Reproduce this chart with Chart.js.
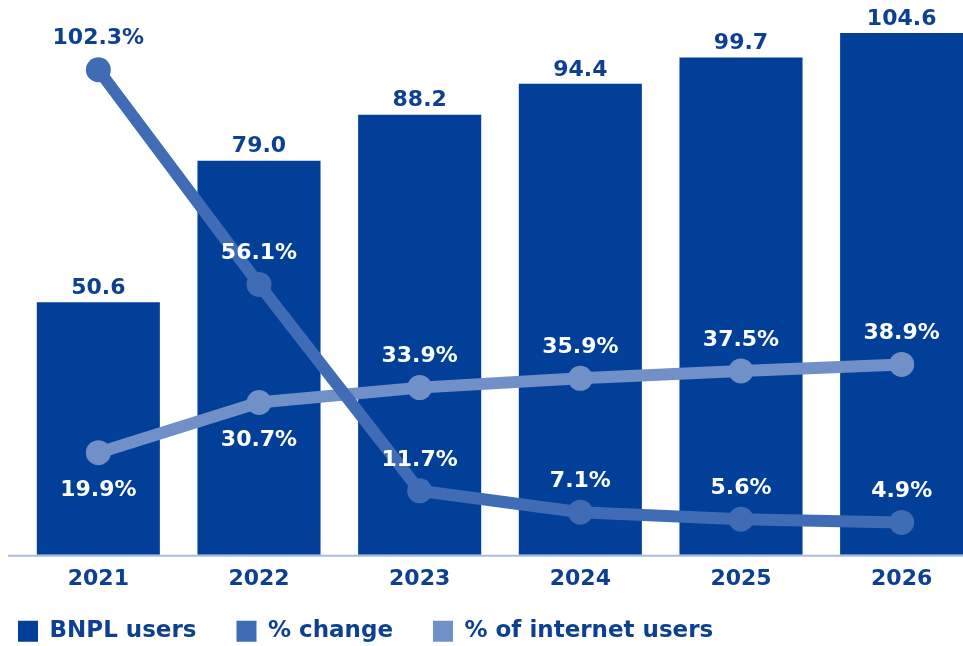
<!DOCTYPE html>
<html>
<head>
<meta charset="utf-8">
<script src="https://cdn.jsdelivr.net/npm/chart.js@4"></script>
<style>
  html, body { margin: 0; padding: 0; background: #fff; overflow: hidden; }
  #bnplChart { display: block; margin-left: -22px; }
</style>
</head>
<body>
<canvas id="bnplChart" width="1004" height="660"></canvas>
<script>
// Données
const years = ['2021', '2022', '2023', '2024', '2025', '2026'];
const bnplUsers = [50.6, 79.0, 88.2, 94.4, 99.7, 104.6];
const pctChange = [102.3, 56.1, 11.7, 7.1, 5.6, 4.9];
const pctInternetUsers = [19.9, 30.7, 33.9, 35.9, 37.5, 38.9];

const DARK = '#023f98';
const MID = '#3f6cb4';
const LIGHT = '#7190c8';
const TEXT = '#0d3f93';
const FONT = '"DejaVu Sans", sans-serif';

// Ligne de base sous les barres + années qui débordent sur la zone de légende
const baseLine = {
  id: 'baseLine',
  afterLayout(chart) {
    chart.scales.x.bottom = chart.legend.bottom;
  },
  beforeDatasetsDraw(chart) {
    const { ctx, chartArea } = chart;
    ctx.save();
    ctx.strokeStyle = '#a9bbdc';
    ctx.lineWidth = 2;
    ctx.beginPath();
    ctx.moveTo(chartArea.left - 10, chartArea.bottom + 1);
    ctx.lineTo(chartArea.right, chartArea.bottom + 1);
    ctx.stroke();
    ctx.restore();
  }
};

// Étiquettes de valeurs
const valueLabels = {
  id: 'valueLabels',
  afterDatasetsDraw(chart) {
    const { ctx } = chart;
    const bars = chart.getDatasetMeta(0).data;
    ctx.save();
    ctx.font = 'bold 22px ' + FONT;
    ctx.textAlign = 'center';

    // valeurs des barres
    ctx.textBaseline = 'bottom';
    ctx.fillStyle = TEXT;
    bars.forEach((bar, i) => {
      ctx.fillText(bnplUsers[i].toFixed(1), bar.x, bar.y - 3);
    });

    // valeurs des courbes
    ctx.textBaseline = 'middle';
    [1, 2].forEach(idx => {
      const values = chart.data.datasets[idx].data;
      chart.getDatasetMeta(idx).data.forEach((pt, i) => {
        const below = idx === 2 && values[i] < pctChange[i];
        const y = below ? pt.y + 38 : pt.y - 31;
        ctx.fillStyle = y - 10 > bars[i].y ? '#ffffff' : TEXT;
        ctx.fillText(values[i].toFixed(1) + '%', pt.x, y);
      });
    });
    ctx.restore();
  }
};

new Chart(document.getElementById('bnplChart'), {
  data: {
    labels: years,
    datasets: [
      {
        type: 'bar',
        label: 'BNPL users',
        data: bnplUsers,
        backgroundColor: DARK,
        barPercentage: 0.766,
        categoryPercentage: 1,
        yAxisID: 'y',
        order: 3
      },
      {
        type: 'line',
        label: '% change',
        data: pctChange,
        borderColor: MID,
        backgroundColor: MID,
        borderWidth: 12,
        pointRadius: 12.5,
        pointBackgroundColor: MID,
        pointBorderWidth: 0,
        tension: 0,
        yAxisID: 'y1',
        order: 1
      },
      {
        type: 'line',
        label: '% of internet users',
        data: pctInternetUsers,
        borderColor: LIGHT,
        backgroundColor: LIGHT,
        borderWidth: 12,
        pointRadius: 12.5,
        pointBackgroundColor: LIGHT,
        pointBorderWidth: 0,
        tension: 0,
        yAxisID: 'y1',
        order: 2
      }
    ]
  },
  options: {
    responsive: false,
    animation: false,
    layout: {
      autoPadding: false,
      padding: { top: 20, left: 0, right: 0, bottom: 7.3 }
    },
    plugins: {
      tooltip: { enabled: false },
      legend: {
        position: 'bottom',
        align: 'start',
        labels: {
          boxWidth: 20,
          boxHeight: 21,
          padding: 40,
          color: TEXT,
          font: { family: FONT, size: 23, weight: 'bold' },
          generateLabels(chart) {
            const colors = [DARK, MID, LIGHT];
            return chart.data.datasets.map((ds, i) => ({
              text: ds.label,
              fillStyle: colors[i],
              strokeStyle: colors[i],
              lineWidth: 0,
              fontColor: TEXT,
              datasetIndex: i
            }));
          }
        }
      }
    },
    scales: {
      x: {
        grid: { display: false, drawTicks: false },
        border: { display: false },
        ticks: {
          color: TEXT,
          padding: 23,
          font: { family: FONT, size: 22, weight: 'bold', lineHeight: 0.1 }
        },
        afterFit(scale) {
          scale.height = 25;
          scale.paddingLeft = 0;
          scale.paddingRight = 0;
        }
      },
      y: {
        position: 'left',
        min: 0,
        max: 107.2,
        grid: { display: false },
        border: { display: false },
        ticks: { display: false },
        afterFit(scale) { scale.width = 40; }
      },
      y1: {
        display: false,
        min: -2.05,
        max: 113.0
      }
    }
  },
  plugins: [baseLine, valueLabels]
});
</script>
</body>
</html>
